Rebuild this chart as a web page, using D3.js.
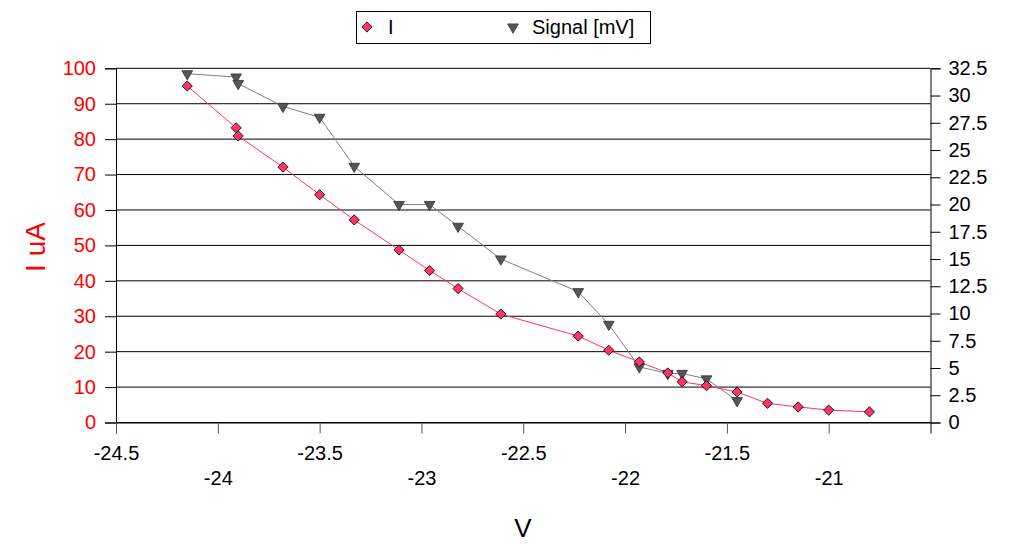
<!doctype HTML>
<html>
<head>
    <style>
        body { margin: 0; background: #fff; }
        text { font-family: "Liberation Sans", Arial, sans-serif; }
    </style>
    <script src="https://d3js.org/d3.v7.min.js"></script>
</head>
<body>
<div id="chart"></div>
<script>

    // data
    var currentV = [-24.15, -23.91, -23.90, -23.68, -23.50, -23.33, -23.11, -22.96, -22.82, -22.61,
                    -22.23, -22.08, -21.93, -21.79, -21.72, -21.60, -21.45, -21.30, -21.15, -21.00, -20.80];
    var currentI = [95, 83.2, 80.9, 72.1, 64.3, 57.2, 48.7, 42.9, 37.8, 30.6,
                    24.4, 20.4, 17.1, 14.0, 11.5, 10.4, 8.6, 5.4, 4.4, 3.5, 3.0];

    var signalV = [-24.15, -23.91, -23.90, -23.68, -23.50, -23.33, -23.11, -22.96, -22.82, -22.61,
                   -22.23, -22.08, -21.93, -21.79, -21.72, -21.60, -21.45];
    var signalMV = [32.0, 31.7, 31.1, 29.0, 28.0, 23.5, 20.0, 20.0, 18.0, 15.0,
                    12.0, 9.0, 5.1, 4.5, 4.5, 4.0, 2.0];

    var xTicks = [-24.5, -24, -23.5, -23, -22.5, -22, -21.5, -21];
    var leftTicks = [0, 10, 20, 30, 40, 50, 60, 70, 80, 90, 100];
    var rightTicks = [0, 2.5, 5, 7.5, 10, 12.5, 15, 17.5, 20, 22.5, 25, 27.5, 30, 32.5];

    var canvasWidth = 1009;
    var canvasHeight = 544;
    var plot = {left: 116, right: 930.5, top: 68.3, bottom: 422.5};

    var svg = d3.select("#chart").append("svg")
        .attr("width", canvasWidth)
        .attr("height", canvasHeight);

    var x = d3.scaleLinear().domain([-24.5, -20.5]).range([plot.left, plot.right]);
    var yLeft = d3.scaleLinear().domain([0, 100]).range([plot.bottom, plot.top]);
    var yRight = d3.scaleLinear().domain([0, 32.5]).range([plot.bottom, plot.top]);

    // horizontal gridlines
    svg.append("g")
        .selectAll("line")
        .data(leftTicks)
        .join("line")
        .attr("x1", plot.left)
        .attr("x2", plot.right)
        .attr("y1", d => yLeft(d))
        .attr("y2", d => yLeft(d))
        .attr("stroke", "#000")
        .attr("stroke-width", 1);

    // left axis
    var leftAxis = svg.append("g")
        .attr("transform", `translate(${plot.left}, 0)`)
        .call(d3.axisLeft(yLeft).tickValues(leftTicks).tickSize(11).tickPadding(9).tickFormat(d3.format("d")));
    leftAxis.selectAll("text").attr("fill", "#ff0000").attr("font-size", "20px");

    // right axis
    var rightAxis = svg.append("g")
        .attr("transform", `translate(${plot.right}, 0)`)
        .call(d3.axisRight(yRight).tickValues(rightTicks).tickSize(10).tickPadding(8).tickFormat(d => d));
    rightAxis.selectAll("text").attr("fill", "#000").attr("font-size", "20px");

    // bottom axis with staggered labels
    var bottomAxis = svg.append("g")
        .attr("transform", `translate(0, ${plot.bottom})`)
        .call(d3.axisBottom(x).tickValues(xTicks).tickSize(11).tickFormat(d => d));
    bottomAxis.selectAll(".tick line").attr("stroke", "#555");
    bottomAxis.select(".domain").attr("stroke", "#000");
    bottomAxis.selectAll("text")
        .attr("fill", "#000")
        .attr("font-size", "20px")
        .attr("dy", null)
        .attr("y", (d, i) => i % 2 === 0 ? 37 : 62);

    [leftAxis, rightAxis].forEach(function (a) {
        a.selectAll(".domain, .tick line").attr("stroke", "#000");
    });

    // axis titles
    svg.append("text")
        .attr("transform", "translate(45, 247) rotate(270)")
        .attr("text-anchor", "middle")
        .attr("font-size", "28px")
        .attr("fill", "#ff0000")
        .text("I uA");

    svg.append("text")
        .attr("x", 523)
        .attr("y", 537)
        .attr("text-anchor", "middle")
        .attr("font-size", "26px")
        .attr("fill", "#000")
        .text("V");

    // lines
    var currentData = currentV.map((v, i) => ({v: v, y: currentI[i]}));
    var signalData = signalV.map((v, i) => ({v: v, y: signalMV[i]}));

    svg.append("path")
        .datum(signalData)
        .attr("fill", "none")
        .attr("stroke", "#808080")
        .attr("stroke-width", 1)
        .attr("d", d3.line().x(d => x(d.v)).y(d => yRight(d.y)));

    svg.append("path")
        .datum(currentData)
        .attr("fill", "none")
        .attr("stroke", "#ff3366")
        .attr("stroke-width", 1)
        .attr("d", d3.line().x(d => x(d.v)).y(d => yLeft(d.y)));

    var diamond = d3.symbol().type(d3.symbolSquare).size(52);
    var triangle = d3.symbol().type(d3.symbolTriangle).size(50);

    svg.append("g")
        .selectAll("path")
        .data(signalData)
        .join("path")
        .attr("d", triangle)
        .attr("transform", d => `translate(${x(d.v)}, ${yRight(d.y)}) rotate(180)`)
        .attr("fill", "#555555")
        .attr("stroke", "#333")
        .attr("stroke-width", 0.8);

    svg.append("g")
        .selectAll("path")
        .data(currentData)
        .join("path")
        .attr("d", diamond)
        .attr("transform", d => `translate(${x(d.v)}, ${yLeft(d.y)}) rotate(45)`)
        .attr("fill", "#ff3366")
        .attr("stroke", "#000")
        .attr("stroke-width", 0.8);

    // legend
    var legend = svg.append("g");
    legend.append("rect")
        .attr("x", 356.5)
        .attr("y", 11.5)
        .attr("width", 294)
        .attr("height", 32)
        .attr("fill", "#fff")
        .attr("stroke", "#000");

    legend.append("path")
        .attr("d", diamond)
        .attr("transform", "translate(367, 27) rotate(45)")
        .attr("fill", "#ff3366")
        .attr("stroke", "#000")
        .attr("stroke-width", 0.8);
    legend.append("text")
        .attr("x", 388)
        .attr("y", 34)
        .attr("font-size", "20px")
        .text("I");

    legend.append("path")
        .attr("d", triangle)
        .attr("transform", "translate(513, 27) rotate(180)")
        .attr("fill", "#555555")
        .attr("stroke", "#333")
        .attr("stroke-width", 0.8);
    legend.append("text")
        .attr("x", 532)
        .attr("y", 34)
        .attr("font-size", "20px")
        .text("Signal [mV]");

</script>
</body>
</html>
